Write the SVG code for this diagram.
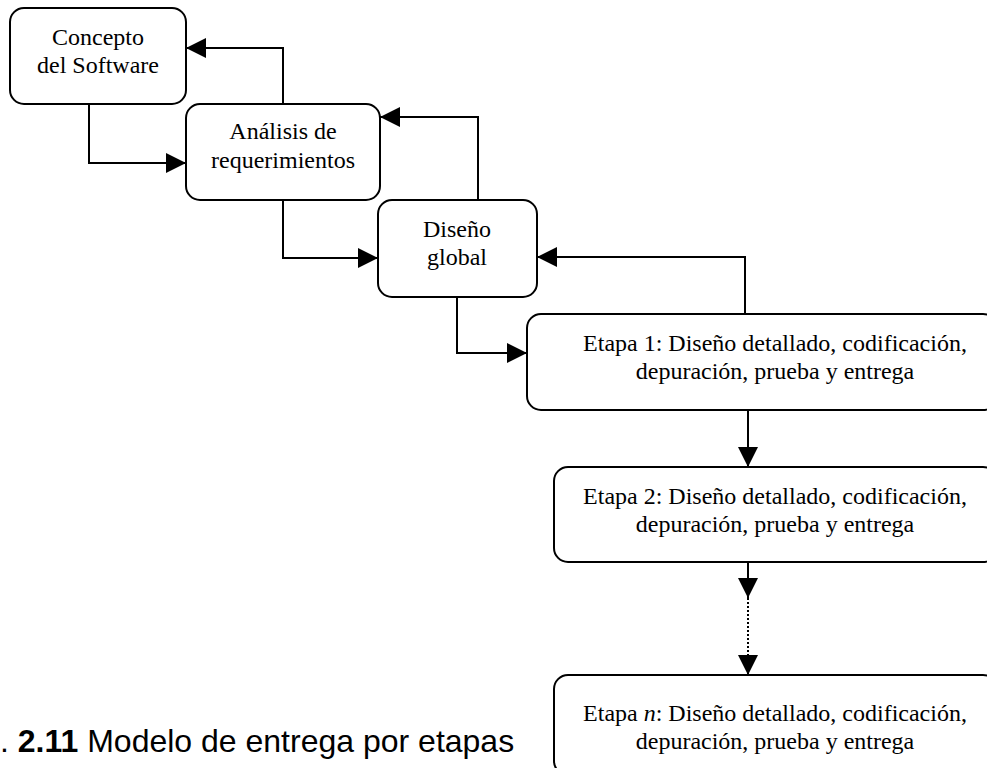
<svg xmlns="http://www.w3.org/2000/svg" width="987" height="768" viewBox="0 0 987 768">
<defs>
<style>
.box{fill:#fff;stroke:#000;stroke-width:2}
.t{font-family:"Liberation Serif","Times New Roman",serif;font-size:24px;fill:#000;text-anchor:middle}
.c{fill:none;stroke:#000;stroke-width:2}
.d{fill:none;stroke:#000;stroke-width:2;stroke-dasharray:2 2}
.cap{font-family:"Liberation Sans",Arial,sans-serif;font-size:32px;fill:#000}
</style>
<marker id="ah" viewBox="0 0 20 20" refX="20" refY="10" markerWidth="20" markerHeight="20" markerUnits="userSpaceOnUse" orient="auto">
<path d="M0,0 L20,10 L0,20 Z" fill="#000"/>
</marker>
</defs>
<rect width="987" height="768" fill="#fff"/>
<g id="connectors">
<path class="c" d="M89,104 V163 H186" marker-end="url(#ah)"/>
<path class="c" d="M283,104 V48 H186" marker-end="url(#ah)"/>
<path class="c" d="M283,200 V258 H378" marker-end="url(#ah)"/>
<path class="c" d="M478,200 V117 H380" marker-end="url(#ah)"/>
<path class="c" d="M457,297 V353 H527" marker-end="url(#ah)"/>
<path class="c" d="M745,314 V257 H537" marker-end="url(#ah)"/>
<path class="c" d="M748,410 V467" marker-end="url(#ah)"/>
<path class="c" d="M748,562 V598" marker-end="url(#ah)"/>
<path class="d" d="M748,598 V655"/>
<path class="c" d="M748,655 V675" marker-end="url(#ah)"/>
</g>
<g id="concepto">
<rect class="box" x="10" y="8" width="176" height="96" rx="14"/>
<text class="t" x="98" y="45">Concepto</text>
<text class="t" x="98" y="73">del Software</text>
</g>
<g id="analisis">
<rect class="box" x="186" y="104" width="194" height="96" rx="14"/>
<text class="t" x="283" y="139">Análisis de</text>
<text class="t" x="283" y="168">requerimientos</text>
</g>
<g id="diseno">
<rect class="box" x="378" y="200" width="159" height="97" rx="14"/>
<text class="t" x="457" y="237">Diseño</text>
<text class="t" x="457" y="265">global</text>
</g>
<g id="etapa1">
<rect class="box" x="527" y="314" width="470" height="96" rx="14"/>
<text class="t" x="775" y="351">Etapa 1: Diseño detallado, codificación,</text>
<text class="t" x="775" y="379">depuración, prueba y entrega</text>
</g>
<g id="etapa2">
<rect class="box" x="554" y="467" width="443" height="95" rx="14"/>
<text class="t" x="775" y="504">Etapa 2: Diseño detallado, codificación,</text>
<text class="t" x="775" y="532">depuración, prueba y entrega</text>
</g>
<g id="etapan">
<rect class="box" x="554" y="675" width="443" height="100" rx="14"/>
<text class="t" x="775" y="721">Etapa <tspan font-style="italic">n</tspan>: Diseño detallado, codificación,</text>
<text class="t" x="775" y="749">depuración, prueba y entrega</text>
</g>
<text class="cap" x="0" y="752">. <tspan font-weight="bold">2.11</tspan> Modelo de entrega por etapas</text>
</svg>
